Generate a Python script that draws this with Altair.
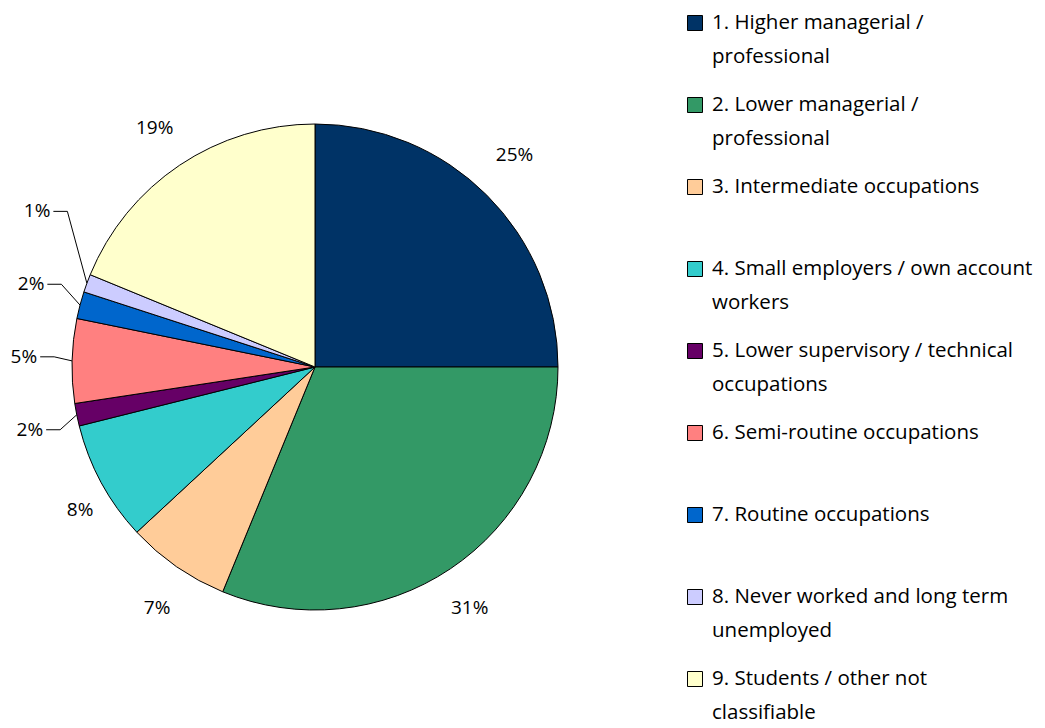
import altair as alt
import pandas as pd

# ---- data ----
legend_line1 = [
    "1. Higher managerial  /",
    "2. Lower managerial /",
    "3. Intermediate occupations",
    "4. Small employers / own account",
    "5. Lower supervisory / technical",
    "6. Semi-routine occupations",
    "7. Routine occupations",
    "8. Never worked and long term",
    "9. Students / other not",
]
legend_line2 = [
    "professional",
    "professional",
    "",
    "workers",
    "occupations",
    "",
    "",
    "unemployed",
    "classifiable",
]
shares = [25.0, 31.2, 6.9, 8.0, 1.5, 5.6, 1.8, 1.2, 18.8]
pct_labels = ["25%", "31%", "7%", "8%", "2%", "5%", "2%", "1%", "19%"]
colors = ["#003366", "#339966", "#FFCC99", "#33CCCC", "#660066",
          "#FF8080", "#0066CC", "#CCCCFF", "#FFFFCC"]

categories = [(a + " " + b).strip() for a, b in zip(legend_line1, legend_line2)]

# ---- layout (not data) ----
W, H = 1029, 716
CX, CY, R = 307, 359, 243
FONT = "Open Sans"
FS = 19
LFS = 20.5
# label placement: angle offset (deg) from slice middle and radius (px)
label_off = [-1.7, 1.1, -1.5, -2.9, -1.66, 0.66, 2.24, 10.3, 0.0]
label_r = [291, 286, 288, 275, 279, 278, 283, 307, 288]
leader = [False, False, False, False, True, True, True, True, False]

df = pd.DataFrame({
    "idx": list(range(len(shares))),
    "cat": categories,
    "share": shares,
    "pct": pct_labels,
    "line1": legend_line1,
    "line2": legend_line2,
    "off": label_off,
    "lr": label_r,
    "leader": leader,
})

color = alt.Color("cat:N", scale=alt.Scale(domain=categories, range=colors), legend=None)

base = alt.Chart(df)

pie = base.mark_arc(outerRadius=R, stroke="black", strokeWidth=1).encode(
    theta=alt.Theta("share:Q", stack=True),
    order=alt.Order("idx:Q", sort="ascending"),
    color=color,
    x=alt.value(CX),
    y=alt.value(CY),
)

geo = base.transform_window(
    cum="sum(share)", sort=[alt.SortField("idx", order="ascending")], frame=[None, 0]
).transform_joinaggregate(
    total="sum(share)"
).transform_calculate(
    mid="2*PI*(datum.cum - datum.share/2)/datum.total"
).transform_calculate(
    ang="datum.mid + datum.off*PI/180",
    ex=f"{CX} + {R}*sin(datum.mid)",
    ey=f"{CY} - {R}*cos(datum.mid)",
).transform_calculate(
    px=f"{CX} + datum.lr*sin(datum.ang)",
    py=f"{CY} - datum.lr*cos(datum.ang)",
).transform_calculate(
    px_a="datum.px + 3",
    px_b="datum.px + 17",
)

big_labels = geo.transform_filter("!datum.leader").mark_text(
    font=FONT, fontSize=FS, color="black", align="center", baseline="middle"
).encode(
    x=alt.X("px:Q", scale=None, axis=None),
    y=alt.Y("py:Q", scale=None, axis=None),
    text="pct:N",
)

small_labels = geo.transform_filter("datum.leader").mark_text(
    font=FONT, fontSize=FS, color="black", align="right", baseline="middle"
).encode(
    x=alt.X("px:Q", scale=None, axis=None),
    y=alt.Y("py:Q", scale=None, axis=None),
    text="pct:N",
)

lead_h = geo.transform_filter("datum.leader").mark_rule(color="black", strokeWidth=1).encode(
    x=alt.X("px_a:Q", scale=None, axis=None),
    x2="px_b:Q",
    y=alt.Y("py:Q", scale=None, axis=None),
    y2="py:Q",
)

lead_d = geo.transform_filter("datum.leader").mark_rule(color="black", strokeWidth=1).encode(
    x=alt.X("px_b:Q", scale=None, axis=None),
    x2="ex:Q",
    y=alt.Y("py:Q", scale=None, axis=None),
    y2="ey:Q",
)

# ---- custom legend ----
leg_y = alt.Y("cat:N", scale=alt.Scale(domain=categories, range=[15, 671], padding=0), axis=None)

leg_sq = base.mark_square(size=225, stroke="black", strokeWidth=1, opacity=1).encode(
    x=alt.value(687),
    y=leg_y,
    color=color,
)
leg_t1 = base.mark_text(font=FONT, fontSize=LFS, color="black", align="left", baseline="middle").encode(
    x=alt.value(704), y=leg_y, text="line1:N"
)
leg_t2 = base.mark_text(font=FONT, fontSize=LFS, color="black", align="left", baseline="middle", dy=34).encode(
    x=alt.value(704), y=leg_y, text="line2:N"
)

chart = alt.layer(
    pie, lead_h, lead_d, big_labels, small_labels, leg_sq, leg_t1, leg_t2
).properties(
    width=W, height=H, autosize=alt.AutoSizeParams(type="none"), padding=0
).configure_view(stroke=None)

chart.save("out.html", embed_options={"renderer": "svg", "actions": False})
